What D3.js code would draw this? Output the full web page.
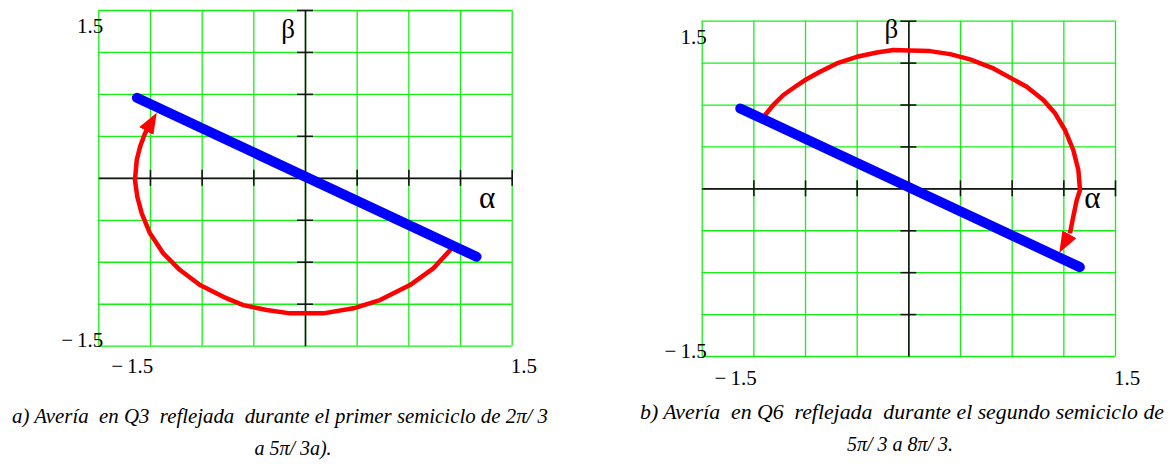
<!DOCTYPE html>
<html>
<head>
<meta charset="utf-8">
<script src="https://cdn.jsdelivr.net/npm/d3@7/dist/d3.min.js"></script>
<style>
  html, body { margin: 0; padding: 0; background: #fff; }
  svg { display: block; }
  .lim { font-size: 21px; fill: #000; }
  .greek { font-size: 27px; fill: #000; }
  .greek.alpha { font-size: 31px; }
  .cap { font-style: italic; font-size: 20px; fill: #000; white-space: pre; }
</style>
</head>
<body>
<svg id="chart" width="1170" height="464"></svg>
<script>
// Axis range and grid positions (α, β share the same range)
const axisDomain = [-1.5, 1.5];
const gridValues = [-1.5, -1.125, -0.75, -0.375, 0, 0.375, 0.75, 1.125, 1.5];
const axisTicksX = [-1.125, -0.75, -0.375, 0.375, 0.75, 1.125, 1.5];
const axisTicksY = [-1.125, -0.75, -0.375, 0.375, 0.75, 1.125, 1.5];
const topLimitLabel = "1.5";
const bottomLimitLabel = "1.5";
const leftLimitLabel = "1.5";
const rightLimitLabel = "1.5";
const axisNames = ["α", "β"];

// Blue trace: current vector locus (a straight segment through the origin)
const faultLineA = [[-1.22, 0.715], [1.245, -0.705]];
const faultLineB = [[-1.22, 0.715], [1.245, -0.705]];

// Red trace: transition path, last point is the arrow tip
const transitionA = [
  [1.065, -0.630], [0.931, -0.809], [0.762, -0.958], [0.544, -1.092],
  [0.351, -1.166], [0.133, -1.211], [-0.109, -1.211], [-0.278, -1.181],
  [-0.448, -1.137], [-0.593, -1.063], [-0.762, -0.958], [-0.907, -0.824],
  [-1.028, -0.675], [-1.125, -0.496], [-1.185, -0.317], [-1.217, -0.169],
  [-1.234, -0.020], [-1.221, 0.159], [-1.197, 0.278], [-1.161, 0.398],
  [-1.139, 0.445], [-1.076, 0.582]
];
const transitionB = [
  [-1.040, 0.656], [-0.980, 0.746], [-0.907, 0.835], [-0.822, 0.909],
  [-0.750, 0.969], [-0.641, 1.043], [-0.520, 1.118], [-0.374, 1.177],
  [-0.229, 1.216], [-0.109, 1.237], [0.012, 1.233], [0.157, 1.228],
  [0.303, 1.201], [0.448, 1.154], [0.617, 1.073], [0.762, 0.975],
  [0.859, 0.909], [0.980, 0.790], [1.065, 0.671], [1.137, 0.522],
  [1.197, 0.343], [1.234, 0.164], [1.246, -0.015], [1.222, -0.105],
  [1.197, -0.254], [1.173, -0.403], [1.096, -0.576]
];

// Captions (two lines each)
const captionA = ["a) Avería  en Q3  reflejada  durante el primer semiciclo de 2π/ 3", "a 5π/ 3a)."];
const captionB = ["b) Avería  en Q6  reflejada  durante el segundo semiciclo de", "5π/ 3 a 8π/ 3."];

const SERIF = "'Liberation Serif', 'DejaVu Serif', 'Times New Roman', Times, serif";

const svg = d3.select("#chart");
svg.append("rect").attr("width", 1170).attr("height", 464).attr("fill", "#fff");

const defs = svg.append("defs");
defs.append("marker")
  .attr("id", "arrowhead")
  .attr("markerUnits", "userSpaceOnUse")
  .attr("viewBox", "0 0 21 16")
  .attr("refX", 21).attr("refY", 8)
  .attr("markerWidth", 21).attr("markerHeight", 16)
  .attr("orient", "auto")
  .append("path")
  .attr("d", "M0,0 L21,8 L0,16 Z")
  .attr("fill", "#ff0000");

const GRID = "#14f014";
const AXIS = "#0d1a0d";

function drawPanel(p) {
  const x = d3.scaleLinear().domain(axisDomain).range([p.x0, p.x1]);
  const y = d3.scaleLinear().domain(axisDomain).range([p.y1, p.y0]);
  const g = svg.append("g");

  // green grid
  const gx = g.append("g").attr("transform", `translate(0,${p.y1})`)
    .call(d3.axisBottom(x).tickValues(gridValues).tickSize(-(p.y1 - p.y0)).tickFormat(""));
  gx.select(".domain").remove();
  gx.selectAll(".tick line").attr("stroke", GRID).attr("stroke-width", 1.3);
  const gy = g.append("g").attr("transform", `translate(${p.x0},0)`)
    .call(d3.axisLeft(y).tickValues(gridValues).tickSize(-(p.x1 - p.x0)).tickFormat(""));
  gy.select(".domain").remove();
  gy.selectAll(".tick line").attr("stroke", GRID).attr("stroke-width", 1.3);

  // axes through the origin with centred tick marks
  const ax = g.append("g").attr("transform", `translate(0,${y(0)})`)
    .call(d3.axisBottom(x).tickValues(axisTicksX).tickSizeInner(8).tickSizeOuter(0).tickFormat(""));
  ax.select(".domain").attr("stroke", AXIS).attr("stroke-width", 1.6);
  ax.selectAll(".tick line").attr("y1", -8).attr("y2", 8).attr("stroke", AXIS).attr("stroke-width", 1.6);
  const ay = g.append("g").attr("transform", `translate(${x(0)},0)`)
    .call(d3.axisLeft(y).tickValues(axisTicksY).tickSizeInner(8).tickSizeOuter(0).tickFormat(""));
  ay.select(".domain").attr("stroke", AXIS).attr("stroke-width", 1.6);
  ay.selectAll(".tick line").attr("x1", -8).attr("x2", 8).attr("stroke", AXIS).attr("stroke-width", 1.6);

  // range limit labels
  g.append("text").attr("class", "lim").attr("font-family", SERIF).attr("text-anchor", "end")
    .attr("x", p.x0 + 5).attr("y", p.y0 + 23).text(topLimitLabel);
  const lb = g.append("text").attr("class", "lim").attr("font-family", SERIF).attr("text-anchor", "end")
    .attr("x", p.x0 + 5).attr("y", p.y1 + 1.5);
  lb.append("tspan").text("−");
  lb.append("tspan").attr("dx", 4).text(bottomLimitLabel);
  const ll = g.append("text").attr("class", "lim").attr("font-family", SERIF).attr("text-anchor", "end")
    .attr("x", p.x0 + 55).attr("y", p.y1 + p.limDy);
  ll.append("tspan").text("−");
  ll.append("tspan").attr("dx", 4).text(leftLimitLabel);
  g.append("text").attr("class", "lim").attr("font-family", SERIF).attr("text-anchor", "start")
    .attr("x", p.x1 - 1).attr("y", p.y1 + p.limDy).text(rightLimitLabel);

  // axis names
  g.append("text").attr("class", "greek alpha").attr("font-family", SERIF)
    .attr("x", x(0) + p.alpha[0]).attr("y", p.alpha[1]).text(axisNames[0]);
  g.append("text").attr("class", "greek").attr("font-family", SERIF).attr("text-anchor", "end")
    .attr("x", x(0) + p.beta[0]).attr("y", p.beta[1]).text(axisNames[1]);

  const line = d3.line().x(d => x(d[0])).y(d => y(d[1]));

  // red transition path with arrowhead
  g.append("path").attr("d", line(p.red.slice(0, -1)))
    .attr("fill", "none").attr("stroke", "#ff0000").attr("stroke-width", 4.5)
    .attr("stroke-linejoin", "round");
  g.append("path").attr("d", line(p.red.slice(-2)))
    .attr("fill", "none").attr("stroke", "none")
    .attr("marker-end", "url(#arrowhead)");

  // blue locus
  g.append("path").attr("d", line(p.blue))
    .attr("fill", "none").attr("stroke", "#0000ff").attr("stroke-width", 10)
    .attr("stroke-linecap", "round");

  // caption
  const c = svg.append("g");
  c.append("text").attr("class", "cap").attr("font-family", SERIF).attr("text-anchor", "middle")
    .attr("x", p.capX).attr("y", p.capY[0])
    .attr("textLength", p.capLen).attr("lengthAdjust", "spacingAndGlyphs")
    .text(p.caption[0]);
  c.append("text").attr("class", "cap").attr("font-family", SERIF).attr("text-anchor", "middle")
    .attr("x", p.capX2).attr("y", p.capY[1])
    .text(p.caption[1]);
}

drawPanel({
  x0: 98.3, x1: 511.7, y0: 10, y1: 345.7, limDy: 27.5,
  alpha: [174, 208], beta: [-10, 38],
  blue: faultLineA, red: transitionA,
  caption: captionA, capX: 280, capX2: 293, capY: [423, 455], capLen: 536
});
drawPanel({
  x0: 701.7, x1: 1115, y0: 20.7, y1: 356, limDy: 29,
  alpha: [176, 208], beta: [-10, 38],
  blue: faultLineB, red: transitionB,
  caption: captionB, capX: 902, capX2: 900, capY: [419, 451], capLen: 524
});
</script>
</body>
</html>
